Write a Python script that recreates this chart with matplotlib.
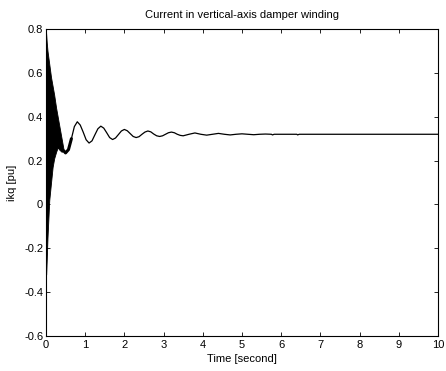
import numpy as np
import matplotlib
matplotlib.use("Agg")
import matplotlib.pyplot as plt

plt.rcParams['font.family'] = ['Liberation Sans', 'DejaVu Sans']

# high-frequency transient band (envelope)
band_t = [0.0, 0.005, 0.02, 0.04, 0.085, 0.13, 0.17, 0.21, 0.26, 0.30, 0.34, 0.40, 0.45]
band_upper = [0.79, 0.78, 0.74, 0.70, 0.64, 0.58, 0.54, 0.50, 0.44, 0.40, 0.36, 0.30, 0.25]
band_lower = [0.70, -0.32, -0.25, -0.15, 0.02, 0.10, 0.17, 0.21, 0.24, 0.26, 0.25, 0.24, 0.245]

# slow damped oscillation after the transient
time_s = [0.45, 0.50, 0.575, 0.65, 0.725, 0.80, 0.875, 0.95, 1.025, 1.10,
          1.175, 1.25, 1.325, 1.40, 1.475, 1.55, 1.625, 1.70, 1.775, 1.85,
          1.925, 2.00, 2.075, 2.15, 2.225, 2.30, 2.375, 2.45, 2.525, 2.60,
          2.675, 2.75, 2.825, 2.90, 2.975, 3.05, 3.125, 3.20, 3.275, 3.35,
          3.425, 3.50, 3.65, 3.80, 3.95, 4.10, 4.25, 4.40, 4.55, 4.70,
          4.85, 5.00, 5.15, 5.30, 5.45, 5.60, 5.75, 5.78, 5.82, 6.40,
          6.42, 6.46, 10.0]
ikq_pu = [0.245, 0.235, 0.250, 0.300, 0.355, 0.377, 0.362, 0.330, 0.295, 0.280,
          0.290, 0.318, 0.345, 0.357, 0.348, 0.327, 0.305, 0.296, 0.303, 0.319,
          0.335, 0.342, 0.336, 0.323, 0.310, 0.305, 0.309, 0.320, 0.330, 0.335,
          0.331, 0.321, 0.313, 0.310, 0.313, 0.320, 0.327, 0.330, 0.327, 0.320,
          0.315, 0.313, 0.320, 0.326, 0.320, 0.316, 0.320, 0.324, 0.320, 0.317,
          0.320, 0.322, 0.320, 0.318, 0.320, 0.321, 0.320, 0.317, 0.320, 0.320,
          0.317, 0.320, 0.320]

fig = plt.figure(figsize=(4.46, 3.71), dpi=100)
ax = fig.add_axes([0.103, 0.0943, 0.879, 0.8275])

ax.fill_between(band_t, band_lower, band_upper, color='k', lw=0.6)
ax.plot(time_s[:4], ikq_pu[:4], color='k', lw=2.2, solid_capstyle='round')
ax.plot(time_s, ikq_pu, color='k', lw=0.9)

ax.set_xlim(0, 10)
ax.set_ylim(-0.6, 0.8)
ax.set_xticks(range(0, 11))
ax.set_yticks([-0.6, -0.4, -0.2, 0, 0.2, 0.4, 0.6, 0.8])
ax.set_yticklabels(['-0.6', '-0.4', '-0.2', '0', '0.2', '0.4', '0.6', '0.8'])
ax.tick_params(direction='in', top=True, right=True, length=3, width=0.6,
               labelsize=8, pad=2)
ax.tick_params(axis='x', pad=3)
for s in ax.spines.values():
    s.set_linewidth(0.8)

ax.set_title('Current in vertical-axis damper winding', fontsize=8, pad=8)
ax.set_xlabel('Time [second]', fontsize=8, labelpad=3)
ax.set_ylabel('ikq [pu]', fontsize=8, labelpad=5)

fig.savefig('out.png', dpi=100)
